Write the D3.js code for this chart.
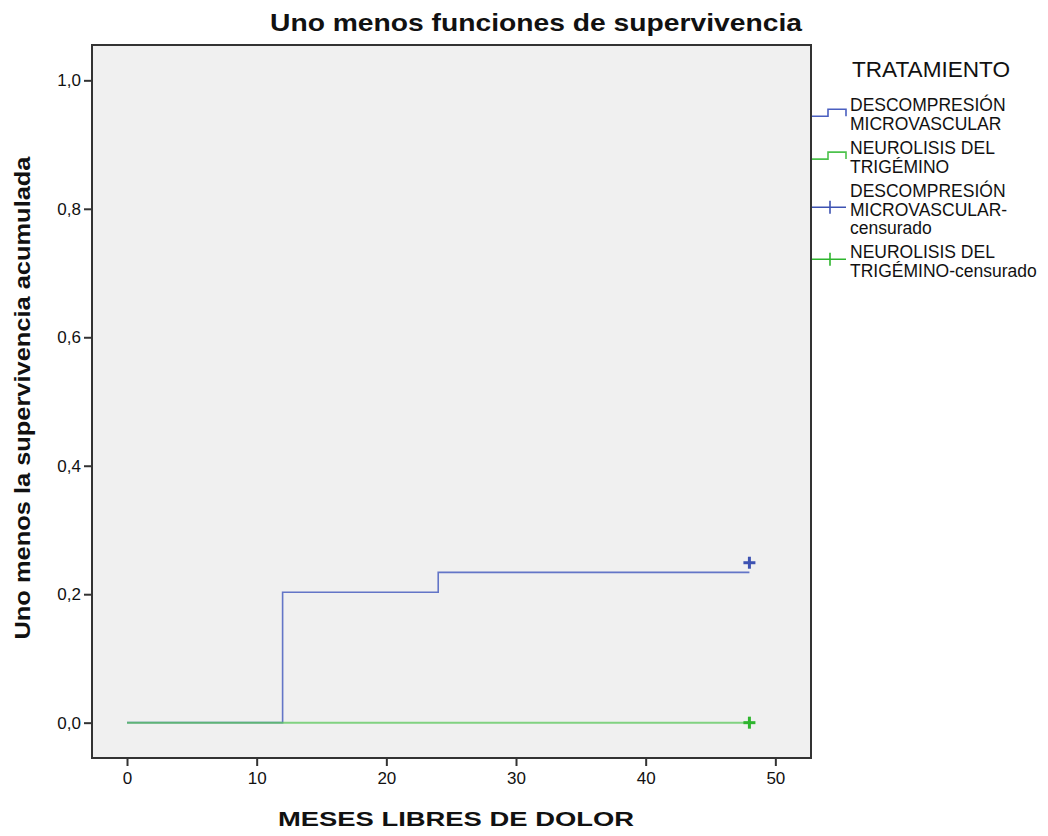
<!DOCTYPE html>
<html>
<head>
<meta charset="utf-8">
<script src="https://cdn.jsdelivr.net/npm/d3@7"></script>
<style>
  body { margin: 0; background: #fff; }
  text { font-family: "Liberation Sans", Arial, sans-serif; fill: #111; }
</style>
</head>
<body>
<div id="chart"></div>
<script>
// datos
const xTicks = [0, 10, 20, 30, 40, 50];
const yTicks = [0, 0.2, 0.4, 0.6, 0.8, 1.0];

const tiempoDMV = [0, 12, 24, 48];
const valorDMV = [0, 0.203, 0.234, 0.234];
const tiempoNTG = [0, 48];
const valorNTG = [0, 0];

const censDMV = [{ t: 48, v: 0.249 }];
const censNTG = [{ t: 48, v: 0 }];

const legendItems = [
  { lines: ["DESCOMPRESIÓN", "MICROVASCULAR"], color: "#4a5fc0", kind: "step" },
  { lines: ["NEUROLISIS DEL", "TRIGÉMINO"], color: "#4cc24c", kind: "step" },
  { lines: ["DESCOMPRESIÓN", "MICROVASCULAR-", "censurado"], color: "#3d52b2", kind: "cross" },
  { lines: ["NEUROLISIS DEL", "TRIGÉMINO-censurado"], color: "#2eb52e", kind: "cross" }
];

const W = 1048, H = 836;
const plot = { left: 92, right: 811, top: 45, bottom: 758 };

const svg = d3.select("#chart").append("svg")
  .attr("width", W)
  .attr("height", H);

const x = d3.scaleLinear().domain([-2.7, 52.75]).range([plot.left, plot.right]);
const y = d3.scaleLinear().domain([-0.055, 1.055]).range([plot.bottom, plot.top]);

// fondo del area
svg.append("rect")
  .attr("x", plot.left).attr("y", plot.top)
  .attr("width", plot.right - plot.left).attr("height", plot.bottom - plot.top)
  .attr("fill", "#f0f0f0");

const fmt = d => d3.format(".1f")(d).replace(".", ",");

const yAxis = svg.append("g")
  .attr("transform", `translate(${plot.left},0)`)
  .call(d3.axisLeft(y).tickValues(yTicks).tickFormat(fmt).tickSize(8).tickPadding(3));

const xAxis = svg.append("g")
  .attr("transform", `translate(0,${plot.bottom})`)
  .call(d3.axisBottom(x).tickValues(xTicks).tickFormat(d3.format("d")).tickSize(8).tickPadding(6));

[xAxis, yAxis].forEach(g => {
  g.select(".domain").remove();
  g.selectAll("line").attr("stroke", "#333").attr("stroke-width", 2);
  g.selectAll("text").style("font-size", "17px").attr("fill", "#222");
});

const line = d3.line()
  .x(d => x(d[0]))
  .y(d => y(d[1]))
  .curve(d3.curveStepAfter);

svg.append("path")
  .datum(d3.zip(tiempoDMV, valorDMV))
  .attr("d", line)
  .attr("fill", "none")
  .attr("stroke", "#4a5fc0")
  .attr("stroke-opacity", 0.85)
  .attr("stroke-width", 1.6);

svg.append("path")
  .datum(d3.zip(tiempoNTG, valorNTG))
  .attr("d", line)
  .attr("fill", "none")
  .attr("stroke", "#5cc85c")
  .attr("stroke-opacity", 0.75)
  .attr("stroke-width", 2);

const cross = (g, data, color) => {
  const m = g.selectAll(null).data(data).enter().append("g")
    .attr("transform", d => `translate(${x(d.t)},${y(d.v)})`);
  m.append("line").attr("x1", -6).attr("x2", 6)
    .attr("stroke", color).attr("stroke-width", 3);
  m.append("line").attr("y1", -6).attr("y2", 6)
    .attr("stroke", color).attr("stroke-width", 3);
};
cross(svg, censDMV, "#3d52b2");
cross(svg, censNTG, "#2eb52e");

// marco
svg.append("rect")
  .attr("x", plot.left).attr("y", plot.top)
  .attr("width", plot.right - plot.left).attr("height", plot.bottom - plot.top)
  .attr("fill", "none")
  .attr("stroke", "#333")
  .attr("stroke-width", 2);

// titulos
svg.append("text")
  .attr("x", 536).attr("y", 31)
  .attr("text-anchor", "middle")
  .attr("textLength", 532).attr("lengthAdjust", "spacingAndGlyphs")
  .style("font-size", "24px").style("font-weight", "bold")
  .text("Uno menos funciones de supervivencia");

svg.append("text")
  .attr("x", 456).attr("y", 826)
  .attr("text-anchor", "middle")
  .attr("textLength", 356).attr("lengthAdjust", "spacingAndGlyphs")
  .style("font-size", "21px").style("font-weight", "bold")
  .text("MESES LIBRES DE DOLOR");

svg.append("text")
  .attr("transform", "translate(30,398) rotate(-90)")
  .attr("text-anchor", "middle")
  .attr("textLength", 483).attr("lengthAdjust", "spacingAndGlyphs")
  .style("font-size", "22px").style("font-weight", "bold")
  .text("Uno menos la supervivencia acumulada");

// leyenda
const legend = svg.append("g");
legend.append("text")
  .attr("x", 852).attr("y", 77)
  .attr("textLength", 158).attr("lengthAdjust", "spacingAndGlyphs")
  .style("font-size", "22px")
  .text("TRATAMIENTO");

const lineH = 18.4, itemGap = 24.5;
let cy = 105;
legendItems.forEach(item => {
  const g = legend.append("g");
  item.lines.forEach((l, i) => {
    g.append("text")
      .attr("x", 850).attr("y", cy + i * lineH)
      .attr("dy", "0.36em")
      .style("font-size", "17.5px")
      .text(l);
  });
  const mid = cy + (item.lines.length - 1) * lineH / 2;
  if (item.kind === "step") {
    const lo = mid + 2, hi = mid - 5;
    g.append("path")
      .attr("d", `M812,${lo}H828V${hi}H846V${lo}`)
      .attr("fill", "none").attr("stroke", item.color).attr("stroke-width", 1.6);
  } else {
    const cyc = mid - 2;
    g.append("line").attr("x1", 812).attr("x2", 846).attr("y1", cyc).attr("y2", cyc)
      .attr("stroke", item.color).attr("stroke-width", 1.6);
    g.append("line").attr("x1", 830).attr("x2", 830).attr("y1", cyc - 6.5).attr("y2", cyc + 6.5)
      .attr("stroke", item.color).attr("stroke-width", 1.6);
  }
  cy += (item.lines.length - 1) * lineH + itemGap;
});
</script>
</body>
</html>
